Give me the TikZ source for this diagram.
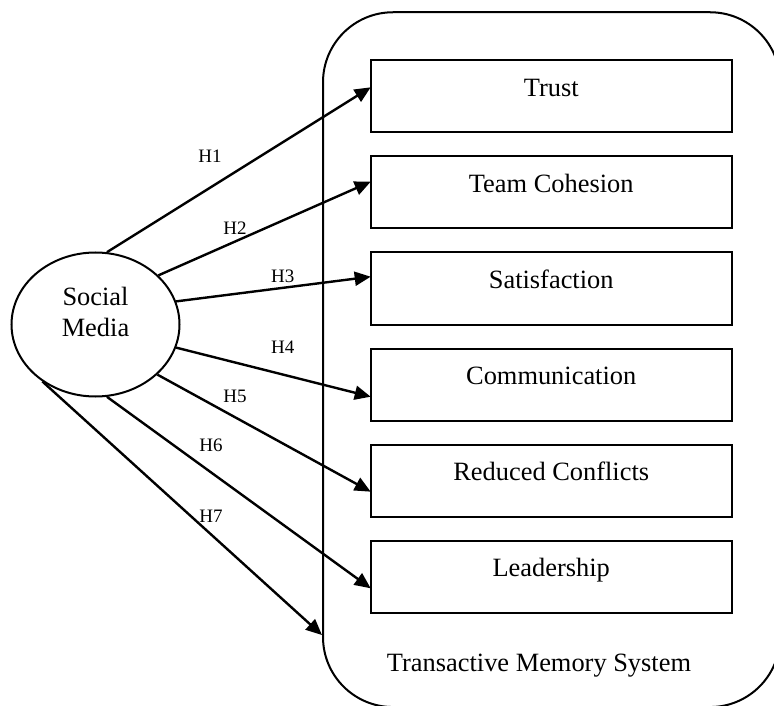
\documentclass[tikz,border=0pt]{standalone}
\usepackage{fontspec}
\setmainfont{Liberation Serif}
\usetikzlibrary{arrows.meta,positioning,shapes.geometric}

\begin{document}
\begin{tikzpicture}[
    x=0.5pt,y=-0.5pt,
    node distance=12pt,
    every node/.style={font=\fontsize{13.2}{15.85}\selectfont},
    factor/.style={draw,line width=1pt,outer sep=0pt,minimum width=180.5pt,minimum height=36pt,text height=0pt,text depth=0pt},
    media/.style={draw,ellipse,line width=1pt,inner sep=0pt,minimum width=84pt,minimum height=72pt,align=center,text depth=12.8pt},
    system/.style={draw,line width=1pt,rounded corners=35pt,minimum width=228.5pt,minimum height=347.4pt},
    hyp/.style={font=\fontsize{9.5}{11}\selectfont},
    arr/.style={-{Triangle[length=8pt,width=7pt]},line width=1.2pt}
  ]
  \useasboundingbox (0,0) rectangle (774,705);
  \begin{scope}
  \clip (0,0) rectangle (774,705);
  \node[system] (tms) at (551.5,359.65) {};
  \end{scope}
  \node[factor] (trust) at (551.2,96.5) {Trust};
  \node[factor,below=of trust] (cohesion) {Team Cohesion};
  \node[factor,below=of cohesion] (satisf) {Satisfaction};
  \node[factor,below=of satisf] (comm) {Communication};
  \node[factor,below=of comm] (conflicts) {Reduced Conflicts};
  \node[factor,below=of conflicts] (leader) {Leadership};
  \node[anchor=base] (tmstext) at (539,671.7) {Transactive Memory System};
  \node[media] (sm) at (95.5,324.5) {Social\\Media};
  \node[hyp] (h1) at (210,156.7) {H1};
  \node[hyp] (h2) at (235,228.3) {H2};
  \node[hyp] (h3) at (282.7,276) {H3};
  \node[hyp] (h4) at (282.7,347.5) {H4};
  \node[hyp] (h5) at (235,396.7) {H5};
  \node[hyp] (h6) at (211,445) {H6};
  \node[hyp] (h7) at (211,516) {H7};
  \draw[arr] (sm.81) -- ([yshift=4.6pt]trust.west);
  \draw[arr] (sm.38) -- ([yshift=5.4pt]cohesion.west);
  \draw[arr] (sm.16) -- ([yshift=5.9pt]satisf.west);
  \draw[arr] (sm.-16) -- ([yshift=-6.1pt]comm.west);
  \draw[arr] (sm.-39) -- ([yshift=-5.6pt]conflicts.west);
  \draw[arr] (sm.-81) -- ([yshift=-5.9pt]leader.west);
  \draw[arr] (sm.-133) -- ([yshift=-137.7pt]tms.west);
\end{tikzpicture}
\end{document}
